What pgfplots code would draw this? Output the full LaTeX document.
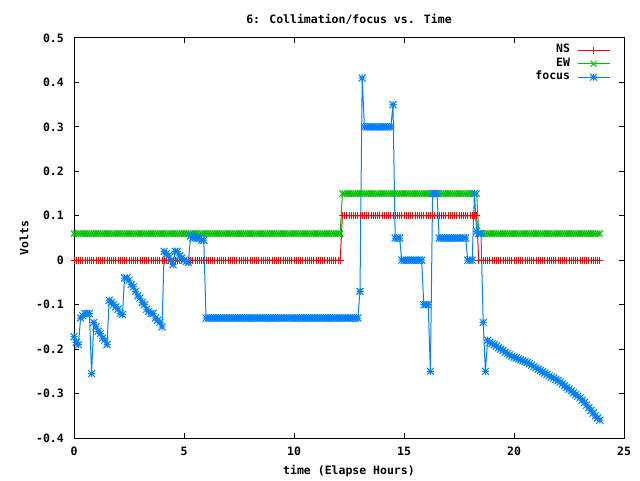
\documentclass[border=0pt]{standalone}
\usepackage{pgfplots}
\usepackage{pgfplotstable}
\pgfplotsset{compat=1.18}
\usepackage{fontspec}
\setmainfont{DejaVu Sans Mono}
\newcommand\gf{\fontsize{11.5}{13}\selectfont\bfseries}
\definecolor{gred}{RGB}{255,0,0}
\definecolor{ggreen}{RGB}{0,192,0}
\definecolor{gblue}{RGB}{0,128,255}
\pgfdeclareplotmark{gplus}{%
 \pgfpathmoveto{\pgfqpoint{-\pgfplotmarksize}{0pt}}\pgfpathlineto{\pgfqpoint{\pgfplotmarksize}{0pt}}%
 \pgfpathmoveto{\pgfqpoint{0pt}{-\pgfplotmarksize}}\pgfpathlineto{\pgfqpoint{0pt}{\pgfplotmarksize}}%
 \pgfusepathqstroke}
\pgfdeclareplotmark{gx}{%
 \pgfpathmoveto{\pgfqpoint{-\pgfplotmarksize}{-\pgfplotmarksize}}\pgfpathlineto{\pgfqpoint{\pgfplotmarksize}{\pgfplotmarksize}}%
 \pgfpathmoveto{\pgfqpoint{-\pgfplotmarksize}{\pgfplotmarksize}}\pgfpathlineto{\pgfqpoint{\pgfplotmarksize}{-\pgfplotmarksize}}%
 \pgfusepathqstroke}
\pgfdeclareplotmark{gstar}{%
 \pgfpathmoveto{\pgfqpoint{-\pgfplotmarksize}{0pt}}\pgfpathlineto{\pgfqpoint{\pgfplotmarksize}{0pt}}%
 \pgfpathmoveto{\pgfqpoint{0pt}{-\pgfplotmarksize}}\pgfpathlineto{\pgfqpoint{0pt}{\pgfplotmarksize}}%
 \pgfpathmoveto{\pgfqpoint{-\pgfplotmarksize}{-\pgfplotmarksize}}\pgfpathlineto{\pgfqpoint{\pgfplotmarksize}{\pgfplotmarksize}}%
 \pgfpathmoveto{\pgfqpoint{-\pgfplotmarksize}{\pgfplotmarksize}}\pgfpathlineto{\pgfqpoint{\pgfplotmarksize}{-\pgfplotmarksize}}%
 \pgfusepathqstroke}
\pgfplotstableread{
x ns ew f
0.0 0 0.06 -0.172
0.1 0 0.06 -0.185
0.2 0 0.06 -0.190
0.3 0 0.06 -0.130
0.4 0 0.06 -0.125
0.5 0 0.06 -0.120
0.6 0 0.06 -0.120
0.7 0 0.06 -0.120
0.8 0 0.06 -0.255
0.9 0 0.06 -0.140
1.0 0 0.06 -0.150
1.1 0 0.06 -0.160
1.2 0 0.06 -0.165
1.3 0 0.06 -0.175
1.4 0 0.06 -0.180
1.5 0 0.06 -0.190
1.6 0 0.06 -0.090
1.7 0 0.06 -0.095
1.8 0 0.06 -0.100
1.9 0 0.06 -0.105
2.0 0 0.06 -0.110
2.1 0 0.06 -0.120
2.2 0 0.06 -0.122
2.3 0 0.06 -0.040
2.4 0 0.06 -0.040
2.5 0 0.06 -0.045
2.6 0 0.06 -0.055
2.7 0 0.06 -0.060
2.8 0 0.06 -0.070
2.9 0 0.06 -0.080
3.0 0 0.06 -0.085
3.1 0 0.06 -0.095
3.2 0 0.06 -0.100
3.3 0 0.06 -0.110
3.4 0 0.06 -0.115
3.5 0 0.06 -0.120
3.6 0 0.06 -0.120
3.7 0 0.06 -0.130
3.8 0 0.06 -0.135
3.9 0 0.06 -0.140
4.0 0 0.06 -0.150
4.1 0 0.06 0.020
4.2 0 0.06 0.015
4.3 0 0.06 0.010
4.4 0 0.06 0.000
4.5 0 0.06 -0.010
4.6 0 0.06 0.020
4.7 0 0.06 0.020
4.8 0 0.06 0.010
4.9 0 0.06 0.005
5.0 0 0.06 0.000
5.1 0 0.06 -0.003
5.2 0 0.06 -0.005
5.3 0 0.06 0.055
5.4 0 0.06 0.050
5.5 0 0.06 0.050
5.6 0 0.06 0.050
5.7 0 0.06 0.050
5.8 0 0.06 0.045
5.9 0 0.06 0.045
6.0 0 0.06 -0.130
6.1 0 0.06 -0.130
6.2 0 0.06 -0.130
6.3 0 0.06 -0.130
6.4 0 0.06 -0.130
6.5 0 0.06 -0.130
6.6 0 0.06 -0.130
6.7 0 0.06 -0.130
6.8 0 0.06 -0.130
6.9 0 0.06 -0.130
7.0 0 0.06 -0.130
7.1 0 0.06 -0.130
7.2 0 0.06 -0.130
7.3 0 0.06 -0.130
7.4 0 0.06 -0.130
7.5 0 0.06 -0.130
7.6 0 0.06 -0.130
7.7 0 0.06 -0.130
7.8 0 0.06 -0.130
7.9 0 0.06 -0.130
8.0 0 0.06 -0.130
8.1 0 0.06 -0.130
8.2 0 0.06 -0.130
8.3 0 0.06 -0.130
8.4 0 0.06 -0.130
8.5 0 0.06 -0.130
8.6 0 0.06 -0.130
8.7 0 0.06 -0.130
8.8 0 0.06 -0.130
8.9 0 0.06 -0.130
9.0 0 0.06 -0.130
9.1 0 0.06 -0.130
9.2 0 0.06 -0.130
9.3 0 0.06 -0.130
9.4 0 0.06 -0.130
9.5 0 0.06 -0.130
9.6 0 0.06 -0.130
9.7 0 0.06 -0.130
9.8 0 0.06 -0.130
9.9 0 0.06 -0.130
10.0 0 0.06 -0.130
10.1 0 0.06 -0.130
10.2 0 0.06 -0.130
10.3 0 0.06 -0.130
10.4 0 0.06 -0.130
10.5 0 0.06 -0.130
10.6 0 0.06 -0.130
10.7 0 0.06 -0.130
10.8 0 0.06 -0.130
10.9 0 0.06 -0.130
11.0 0 0.06 -0.130
11.1 0 0.06 -0.130
11.2 0 0.06 -0.130
11.3 0 0.06 -0.130
11.4 0 0.06 -0.130
11.5 0 0.06 -0.130
11.6 0 0.06 -0.130
11.7 0 0.06 -0.130
11.8 0 0.06 -0.130
11.9 0 0.06 -0.130
12.0 0 0.06 -0.130
12.1 0 0.06 -0.130
12.2 0.1 0.15 -0.130
12.3 0.1 0.15 -0.130
12.4 0.1 0.15 -0.130
12.5 0.1 0.15 -0.130
12.6 0.1 0.15 -0.130
12.7 0.1 0.15 -0.130
12.8 0.1 0.15 -0.130
12.9 0.1 0.15 -0.130
13.0 0.1 0.15 -0.070
13.1 0.1 0.15 0.410
13.2 0.1 0.15 0.300
13.3 0.1 0.15 0.300
13.4 0.1 0.15 0.300
13.5 0.1 0.15 0.300
13.6 0.1 0.15 0.300
13.7 0.1 0.15 0.300
13.8 0.1 0.15 0.300
13.9 0.1 0.15 0.300
14.0 0.1 0.15 0.300
14.1 0.1 0.15 0.300
14.2 0.1 0.15 0.300
14.3 0.1 0.15 0.300
14.4 0.1 0.15 0.300
14.5 0.1 0.15 0.350
14.6 0.1 0.15 0.050
14.7 0.1 0.15 0.050
14.8 0.1 0.15 0.050
14.9 0.1 0.15 0.000
15.0 0.1 0.15 0.000
15.1 0.1 0.15 0.000
15.2 0.1 0.15 0.000
15.3 0.1 0.15 0.000
15.4 0.1 0.15 0.000
15.5 0.1 0.15 0.000
15.6 0.1 0.15 0.000
15.7 0.1 0.15 0.000
15.8 0.1 0.15 0.000
15.9 0.1 0.15 -0.100
16.0 0.1 0.15 -0.100
16.1 0.1 0.15 -0.100
16.2 0.1 0.15 -0.250
16.3 0.1 0.15 0.150
16.4 0.1 0.15 0.150
16.5 0.1 0.15 0.150
16.6 0.1 0.15 0.050
16.7 0.1 0.15 0.050
16.8 0.1 0.15 0.050
16.9 0.1 0.15 0.050
17.0 0.1 0.15 0.050
17.1 0.1 0.15 0.050
17.2 0.1 0.15 0.050
17.3 0.1 0.15 0.050
17.4 0.1 0.15 0.050
17.5 0.1 0.15 0.050
17.6 0.1 0.15 0.050
17.7 0.1 0.15 0.050
17.8 0.1 0.15 0.050
17.9 0.1 0.15 0.000
18.0 0.1 0.15 0.000
18.1 0.1 0.15 0.000
18.2 0.1 0.15 0.150
18.3 0.1 0.15 0.065
18.4 0 0.06 0.060
18.5 0 0.06 0.060
18.6 0 0.06 -0.140
18.7 0 0.06 -0.250
18.8 0 0.06 -0.180
18.9 0 0.06 -0.185
19.0 0 0.06 -0.188
19.1 0 0.06 -0.190
19.2 0 0.06 -0.193
19.3 0 0.06 -0.197
19.4 0 0.06 -0.200
19.5 0 0.06 -0.203
19.6 0 0.06 -0.207
19.7 0 0.06 -0.210
19.8 0 0.06 -0.213
19.9 0 0.06 -0.216
20.0 0 0.06 -0.218
20.1 0 0.06 -0.220
20.2 0 0.06 -0.222
20.3 0 0.06 -0.224
20.4 0 0.06 -0.226
20.5 0 0.06 -0.228
20.6 0 0.06 -0.230
20.7 0 0.06 -0.233
20.8 0 0.06 -0.236
20.9 0 0.06 -0.239
21.0 0 0.06 -0.242
21.1 0 0.06 -0.245
21.2 0 0.06 -0.248
21.3 0 0.06 -0.251
21.4 0 0.06 -0.254
21.5 0 0.06 -0.257
21.6 0 0.06 -0.260
21.7 0 0.06 -0.263
21.8 0 0.06 -0.265
21.9 0 0.06 -0.268
22.0 0 0.06 -0.271
22.1 0 0.06 -0.274
22.2 0 0.06 -0.278
22.3 0 0.06 -0.282
22.4 0 0.06 -0.286
22.5 0 0.06 -0.290
22.6 0 0.06 -0.294
22.7 0 0.06 -0.298
22.8 0 0.06 -0.302
22.9 0 0.06 -0.306
23.0 0 0.06 -0.310
23.1 0 0.06 -0.315
23.2 0 0.06 -0.320
23.3 0 0.06 -0.326
23.4 0 0.06 -0.332
23.5 0 0.06 -0.338
23.6 0 0.06 -0.344
23.7 0 0.06 -0.350
23.8 0 0.06 -0.355
23.9 0 0.06 -0.360
}\data
\begin{document}
\begin{tikzpicture}
\path[use as bounding box] (0pt,0pt) rectangle (640pt,480pt);
\begin{axis}[
  at={(74pt,42pt)}, anchor=south west,
  scale only axis, width=550pt, height=400pt,
  xmin=0, xmax=25, ymin=-0.4, ymax=0.5,
  xtick={0,5,10,15,20,25},
  xticklabels={0,5,10,15,20,25},
  ytick={-0.4,-0.3,-0.2,-0.1,0,0.1,0.2,0.3,0.4,0.5},
  yticklabels={-0.4,-0.3,-0.2,-0.1,0,0.1,0.2,0.3,0.4,0.5},
  tick align=inside, major tick length=5pt,
  every tick/.style={black, line width=1pt},
  axis line style={line width=1pt},
  minor tick num=0,
  clip=false,
  font=\gf,
  xticklabel style={font=\gf, inner sep=0pt, anchor=north, yshift=-9pt},
  yticklabel style={font=\gf, inner sep=0pt, anchor=east, xshift=-10pt},
  every axis title shift=0pt,
  title={6: Collimation/focus vs. Time},
  title style={font=\gf, at={(axis description cs:0.5,1.037)}, anchor=base, inner sep=0pt},
  xlabel={time (Elapse Hours)},
  xlabel style={font=\gf, at={(axis description cs:0.5,-0.09)}, anchor=base, inner sep=0pt},
  ylabel={Volts},
  ylabel style={font=\gf, at={(axis description cs:-0.083,0.5)}, anchor=base, rotate=0, inner sep=0pt},
  legend plot pos=right,
  legend cell align=right,
  legend style={draw=none, fill=none, font=\gf,
    at={(rel axis cs:0.975,0.987)}, anchor=north east,
    inner sep=0pt, column sep=6pt, row sep=0pt,
    nodes={text height=8.5pt, text depth=3pt, inner sep=1pt}},
  legend image code/.code={\draw[mark repeat=2,mark phase=2] plot coordinates {(0pt,0pt) (16pt,0pt) (32pt,0pt)};},
]
\addplot[gred, line width=1pt, mark=gplus, mark size=3.5pt, mark options={line width=1pt}] table[x=x, y=ns] {\data};
\addlegendentry{NS}
\addplot[ggreen, line width=1pt, mark=gx, mark size=3pt, mark options={line width=1pt}] table[x=x, y=ew] {\data};
\addlegendentry{EW}
\addplot[gblue, line width=1pt, mark=gstar, mark size=3.5pt, mark options={line width=1pt}] table[x=x, y=f] {\data};
\addlegendentry{focus}
\end{axis}
\end{tikzpicture}
\end{document}
